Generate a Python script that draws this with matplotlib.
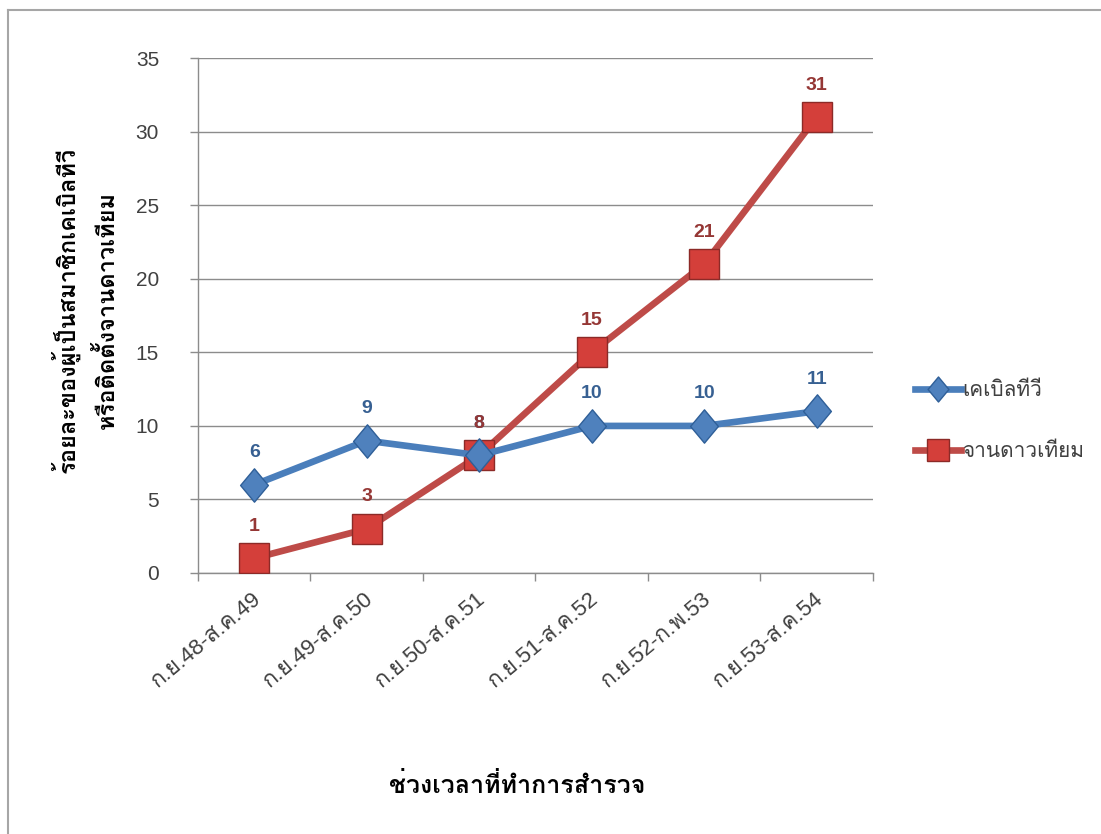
import matplotlib
matplotlib.use("Agg")
import matplotlib.pyplot as plt
from matplotlib.lines import Line2D
from matplotlib.path import Path
from matplotlib.transforms import ScaledTranslation

plt.rcParams["font.family"] = ["Liberation Sans", "Loma"]

periods = ["ก.ย.48-ส.ค.49", "ก.ย.49-ส.ค.50", "ก.ย.50-ส.ค.51",
           "ก.ย.51-ส.ค.52", "ก.ย.52-ก.พ.53", "ก.ย.53-ส.ค.54"]
cable_tv = [6, 9, 8, 10, 10, 11]
satellite = [1, 3, 8, 15, 21, 31]
series_names = ["เคเบิลทีวี", "จานดาวเทียม"]

y_label = "ร้อยละของผู้เป็นสมาชิกเคเบิลทีวี\nหรือติดตั้งจานดาวเทียม"
x_label = "ช่วงเวลาที่ทำการสำรวจ"

BLUE_LINE = "#4a7ebb"
BLUE_FACE = "#4f81bd"
BLUE_EDGE = "#2f5f98"
BLUE_TEXT = "#376092"
RED_LINE = "#be4b48"
RED_FACE = "#d43f3a"
RED_EDGE = "#8c2a27"
RED_TEXT = "#953735"
GRID = "#8c8c8c"
TEXT = "#404040"

# slightly tall diamond, the way the office chart draws it
diamond = Path([(0, 1.2), (1, 0), (0, -1.2), (-1, 0), (0, 1.2)],
               [Path.MOVETO, Path.LINETO, Path.LINETO, Path.LINETO, Path.CLOSEPOLY])

fig = plt.figure(figsize=(11.01, 8.34), dpi=100)
ax = fig.add_axes([0.1798, 0.313, 0.613, 0.617])

x = list(range(len(periods)))
ax.plot(x, cable_tv, color=BLUE_LINE, lw=4.8, marker=diamond, ms=24,
        mfc=BLUE_FACE, mec=BLUE_EDGE, mew=1.0, label=series_names[0], zorder=4)
ax.plot(x, satellite, color=RED_LINE, lw=4.8, marker="s", ms=22,
        mfc=RED_FACE, mec=RED_EDGE, mew=1.0, label=series_names[1], zorder=3)

for xi, v in zip(x, cable_tv):
    ax.annotate(str(v), (xi, v), xytext=(0, 23), textcoords="offset points",
                ha="center", va="center", fontsize=14, fontweight="bold",
                color=BLUE_TEXT, zorder=5)
for xi, v in zip(x, satellite):
    ax.annotate(str(v), (xi, v), xytext=(0, 23), textcoords="offset points",
                ha="center", va="center", fontsize=14, fontweight="bold",
                color=RED_TEXT, zorder=5)

ax.set_xlim(-0.5, len(periods) - 0.5)
ax.set_ylim(0, 35)
ax.set_yticks(range(0, 36, 5))
ax.yaxis.grid(True, color=GRID, lw=1.0)
ax.set_axisbelow(True)

for side in ("top", "right"):
    ax.spines[side].set_visible(False)
for side in ("left", "bottom"):
    ax.spines[side].set_color(GRID)
    ax.spines[side].set_linewidth(1.0)

ax.tick_params(axis="y", length=6, width=1, color=GRID, pad=22,
               labelsize=15, labelcolor=TEXT)

# category boundaries carry the tick marks, labels sit at the centres
ax.set_xticks(x)
ax.set_xticklabels(periods)
ax.set_xticks([i - 0.5 for i in range(len(periods) + 1)], minor=True)
ax.tick_params(axis="x", which="major", length=0, pad=17,
               labelsize=16, labelcolor=TEXT)
ax.tick_params(axis="x", which="minor", length=6, width=1, color=GRID)
shift = ScaledTranslation(4 / 100, 0, fig.dpi_scale_trans)
for lab in ax.get_xticklabels():
    lab.set_rotation(40)
    lab.set_ha("right")
    lab.set_va("center")
    lab.set_rotation_mode("anchor")
    lab.set_transform(lab.get_transform() + shift)

fig.text(0.077, 0.628, y_label, rotation=90, ha="center", va="center",
         fontsize=17, fontweight="bold", color="black", linespacing=1.8)
fig.text(0.47, 0.058, x_label, ha="center", va="center",
         fontsize=18, fontweight="bold", color="black")

fig.legend(loc="center left", bbox_to_anchor=(0.814, 0.495), frameon=False,
           fontsize=15, handlelength=2.2, handletextpad=0.05, labelspacing=2.0,
           markerscale=0.75, labelcolor=TEXT)

# thin frame along the top and left of the chart area
fig.add_artist(Line2D([8 / 1101, 8 / 1101], [0, 1 - 10 / 834],
                      transform=fig.transFigure, color="#a6a6a6", lw=1.5))
fig.add_artist(Line2D([8 / 1101, 1], [1 - 10 / 834, 1 - 10 / 834],
                      transform=fig.transFigure, color="#a6a6a6", lw=1.5))

fig.savefig("out.png", dpi=100)
